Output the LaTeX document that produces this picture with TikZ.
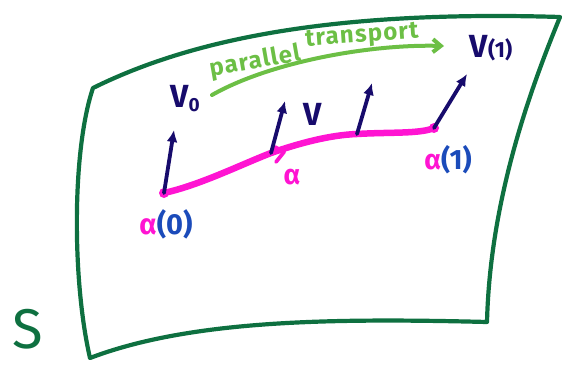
\documentclass[tikz,border=0pt]{standalone}
\usepackage{fontspec}
\setmainfont{Fira Sans}
\usetikzlibrary{arrows.meta}
\definecolor{surf}{HTML}{0E7040}
\definecolor{mag}{HTML}{FF14D2}
\definecolor{navy}{HTML}{170B6C}
\definecolor{blu}{HTML}{1B4BBA}
\definecolor{lgreen}{HTML}{6CBF45}
\tikzset{
  outline/.style={draw=surf,line width=4.2pt,line cap=round,line join=round},
  curve/.style={draw=mag,line width=6.5pt,line cap=round},
  vec/.style={draw=navy,line width=3.8pt,line cap=round,-{Latex[length=12pt,width=11pt]}},
  lbl/.style={inner sep=0pt,font=\bfseries},
  ptext/.style={inner sep=0pt,text=lgreen,font=\bfseries\fontsize{24}{24}\selectfont\addfontfeature{LetterSpace=5}},
}
\begin{document}
\begin{tikzpicture}[x=1pt,y=-1pt]
\useasboundingbox (0,0) rectangle (562,364);
% surface
\coordinate (tl) at (93,88);
\coordinate (tr) at (560,17);
\coordinate (br) at (487,322);
\coordinate (bl) at (90,358);
\draw[outline] (tl) .. controls (190,40) and (330,10) .. (tr)
  .. controls (530,90) and (490,200) .. (br)
  .. controls (330,318) and (190,320) .. (bl)
  .. controls (72,280) and (72,150) .. (tl);
\node[text=surf,font=\fontsize{56}{56}\selectfont,anchor=base,inner sep=0pt] (S) at (28,348) {S};
% curve alpha
\coordinate (a0) at (164,193);
\coordinate (am) at (271,153);
\coordinate (a2) at (357,134);
\coordinate (a1) at (434,128);
\draw[curve] (a0) .. controls (200,185) and (240,165) .. (am)
  .. controls (300,143) and (330,135) .. (a2)
  .. controls (390,132) and (420,134) .. (a1);
\fill[mag] (a0) circle (5pt);
\fill[mag] (a1) circle (5pt);
\coordinate (chev) at (284,152);
\draw[mag,line width=3.8pt,line cap=round,line join=round] (275,147) -- (chev) -- (276,162);
% vectors
\coordinate (v0) at (174,130);
\coordinate (vm) at (285,101);
\coordinate (v2) at (372,83);
\coordinate (v1) at (467,74);
\draw[vec] (a0) -- (v0);
\draw[vec] (am) -- (vm);
\draw[vec] (a2) -- (v2);
\draw[vec] (a1) -- (v1);
% labels
\node[lbl,text=navy,font=\bfseries\fontsize{32}{32}\selectfont] (V0) at (185,99) {V\raisebox{-4pt}{\fontsize{19}{19}\selectfont 0}};
\node[lbl,text=navy,font=\bfseries\fontsize{32}{32}\selectfont] (V) at (313,114) {V};
\node[lbl,text=navy,font=\bfseries\fontsize{32}{32}\selectfont] (V1) at (491,48) {V\fontsize{22}{22}\selectfont(1)};
\node[lbl,font=\bfseries\fontsize{29}{29}\selectfont] (A0) at (166,224) {\textcolor{mag}{α}\textcolor{blu}{(0)}};
\node[lbl,text=mag,font=\bfseries\fontsize{28}{28}\selectfont] (A) at (292,177) {α};
\node[lbl,font=\bfseries\fontsize{28}{28}\selectfont] (A1) at (448,160) {\textcolor{mag}{α}\textcolor{blu}{(1)}};
% parallel transport
\coordinate (ps) at (212,95);
\coordinate (pe) at (444,46);
\draw[draw=lgreen,line width=4pt,line cap=round,-{Straight Barb[length=8pt,width=13pt]}] (ps) .. controls (270,62) and (370,44) .. (pe);
\node[ptext,rotate=10] (P1) at (255,62) {parallel};
\node[ptext,rotate=4] (P2) at (362,37) {transport};
\end{tikzpicture}
\end{document}
